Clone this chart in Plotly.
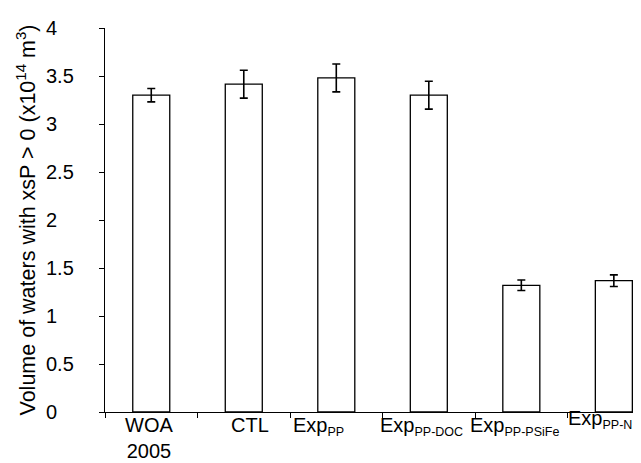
import plotly.graph_objects as go

categories = ["WOA<br>2005", "CTL", "Exp<sub>PP</sub>", "Exp<sub>PP-DOC</sub>",
              "Exp<sub>PP-PSiFe</sub>", "Exp<sub>PP-N</sub>"]
values = [3.30, 3.415, 3.48, 3.30, 1.32, 1.368]
errors = [0.07, 0.145, 0.145, 0.145, 0.055, 0.06]
y_ticks = [0, 0.5, 1, 1.5, 2, 2.5, 3, 3.5, 4]
y_tick_text = ["0", "0.5", "1", "1.5", "2", "2.5", "3", "3.5", "4"]

# label placement tweaks (pixels), style only
label_anchor = ["center", "center", "center", "center", "center", "right"]
label_xshift = [-2, 6, -18, -7, -7, 20]
label_yshift = [0, 0, 0, 0, 0, 7]

idx = list(range(len(categories)))
font = "Liberation Sans, Arial, sans-serif"


def small_sub(s):
    return s.replace("<sub>", '<sub><span style="font-size:12.5px">').replace(
        "</sub>", "</span></sub>")


fig = go.Figure()
fig.add_trace(go.Bar(
    x=idx, y=values, width=0.4,
    marker=dict(color="white", line=dict(color="black", width=1.3)),
    error_y=dict(type="data", array=errors, visible=True, color="black",
                 thickness=1.6, width=4),
))

annotations = []
for i, lab in enumerate(categories):
    annotations.append(dict(
        x=i, xref="x", y=0, yref="paper", yanchor="top", xanchor=label_anchor[i],
        text=small_sub(lab), showarrow=False,
        xshift=label_xshift[i], yshift=label_yshift[i],
        font=dict(family=font, size=20, color="black"), align="center"))
for v, t in zip(y_ticks, y_tick_text):
    annotations.append(dict(
        x=0, xref="paper", y=v, yref="y", xanchor="left", yanchor="middle",
        text=t, showarrow=False, xshift=-61,
        font=dict(family=font, size=20, color="black")))

fig.update_layout(
    width=641, height=463,
    margin=dict(l=97, r=0, t=20, b=59),
    plot_bgcolor="white", paper_bgcolor="white",
    showlegend=False,
    font=dict(family=font, size=20, color="black"),
    annotations=annotations,
    xaxis=dict(
        range=[-0.5, 5.38],
        tickmode="array", tickvals=[i - 0.5 for i in idx],
        showticklabels=False,
        ticks="outside", ticklen=5, tickwidth=1.3, tickcolor="black",
        showline=True, linecolor="black", linewidth=1.3,
        showgrid=False, zeroline=False,
    ),
    yaxis=dict(
        range=[0, 4], tickmode="array", tickvals=y_ticks,
        showticklabels=False,
        ticks="outside", ticklen=5, tickwidth=1.3, tickcolor="black",
        showline=True, linecolor="black", linewidth=1.3,
        showgrid=False, zeroline=False,
        title=dict(text="Volume of waters with xsP > 0 (x10<sup>14</sup> m<sup>3</sup>)",
                   font=dict(size=21.5), standoff=57),
    ),
)

fig.write_html("out.html")
